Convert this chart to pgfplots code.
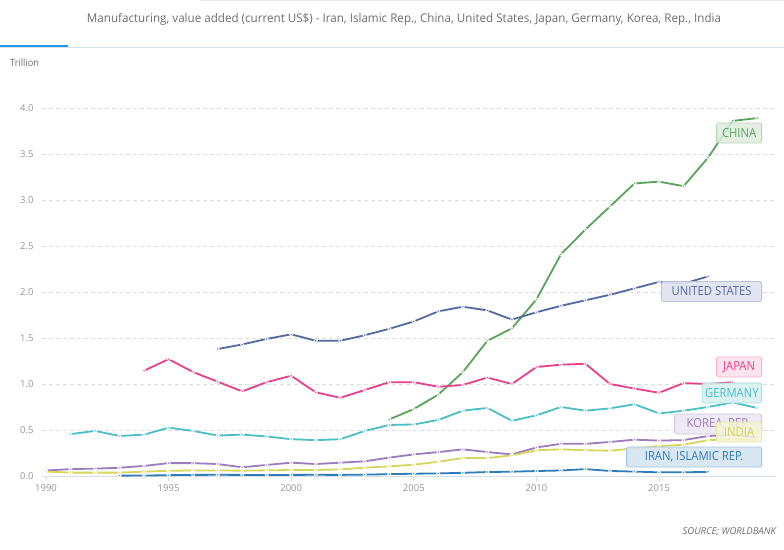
\documentclass[border=0pt]{standalone}
\usepackage{pgfplots}
\pgfplotsset{compat=1.18}
\usepackage{graphicx}
\usepackage{fontspec}
\setmainfont{Open Sans}
\definecolor{china}{RGB}{90,164,90}
\definecolor{usa}{RGB}{84,105,164}
\definecolor{japan}{RGB}{232,65,138}
\definecolor{germany}{RGB}{76,190,198}
\definecolor{korea}{RGB}{157,123,191}
\definecolor{india}{RGB}{214,214,90}
\definecolor{iran}{RGB}{47,125,184}
\definecolor{axiscol}{RGB}{214,224,234}
\definecolor{gridcol}{RGB}{222,222,222}
\definecolor{tickgray}{RGB}{150,150,150}
\definecolor{titlegray}{RGB}{110,110,110}
\definecolor{tabblue}{RGB}{33,150,243}
\newcommand{\labtxt}[1]{\scalebox{0.9}[1]{#1}}
\begin{document}
\begin{tikzpicture}[x=1pt,y=1pt]
\path[use as bounding box, fill=white] (0,0) rectangle (784,-549);
% header
\draw[gridcol!70, line width=1pt] (200,-0.5) -- (784,-0.5);
\draw[axiscol, line width=1pt] (0,-47) -- (784,-47);
\draw[tabblue, line width=2.5pt] (0,-46) -- (68,-46);
\node[anchor=center, text=titlegray, inner sep=0] at (404,-19)
  {\resizebox{634pt}{\height}{\fontsize{12}{14}\selectfont Manufacturing, value added (current US\$) - Iran, Islamic Rep., China, United States, Japan, Germany, Korea, Rep., India}};
\node[anchor=west, text=titlegray, inner sep=0, font=\fontsize{10}{11}\selectfont] at (10,-63) {\scalebox{0.92}[1]{Trillion}};
\node[anchor=east, text=titlegray, inner sep=0, font=\fontsize{9.5}{10}\selectfont\itshape] at (776,-532) {SOURCE; WORLDBANK};
\begin{axis}[
  at={(42pt,-476pt)}, anchor=south west,
  scale only axis, width=734pt, height=368pt,
  xmin=1989.837, xmax=2019.77, ymin=0, ymax=4.0,
  clip=false,
  axis x line*=bottom, axis y line*=left,
  x axis line style={draw=axiscol, line width=1pt, -},
  y axis line style={draw=none},
  xtick={1990,1995,2000,2005,2010,2015},
  ytick={0,0.5,1,1.5,2,2.5,3,3.5,4},
  tick align=outside,
  major tick length=5pt,
  xtick style={draw=axiscol, line width=0.8pt},
  ytick style={draw=none},
  ymajorgrids,
  grid style={gridcol, dashed, dash pattern=on 4pt off 3pt, line width=0.7pt},
  /pgf/number format/assume math mode=true,
  xticklabel style={/pgf/number format/1000 sep={}, font=\fontsize{9.5}{10}\selectfont, text=tickgray},
  yticklabel style={/pgf/number format/fixed, /pgf/number format/fixed zerofill, /pgf/number format/precision=1, font=\fontsize{9.5}{10}\selectfont, text=tickgray},
  every axis plot/.append style={line width=1.8pt, mark=*, mark size=1.6pt},
]
\addplot[iran, mark options={fill=iran, draw=white, line width=0.8pt}] coordinates {
(1993,0.004)(1994,0.005)(1995,0.009)(1996,0.012)(1997,0.013)(1998,0.012)(1999,0.012)(2000,0.012)(2001,0.013)(2002,0.012)(2003,0.015)(2004,0.02)(2005,0.025)(2006,0.028)(2007,0.035)(2008,0.043)(2009,0.047)(2010,0.054)(2011,0.06)(2012,0.075)(2013,0.055)(2014,0.048)(2015,0.04)(2016,0.04)(2017,0.045)};
\addplot[china, mark options={fill=china, draw=white, line width=0.8pt}] coordinates {
(2004,0.615)(2005,0.728)(2006,0.885)(2007,1.13)(2008,1.47)(2009,1.605)(2010,1.92)(2011,2.41)(2012,2.68)(2013,2.93)(2014,3.18)(2015,3.20)(2016,3.15)(2017,3.46)(2018,3.86)(2019,3.89)};
\addplot[usa, mark options={fill=usa, draw=white, line width=0.8pt}] coordinates {
(1997,1.38)(1998,1.43)(1999,1.49)(2000,1.54)(2001,1.47)(2002,1.47)(2003,1.53)(2004,1.60)(2005,1.68)(2006,1.79)(2007,1.84)(2008,1.80)(2009,1.70)(2010,1.78)(2011,1.85)(2012,1.91)(2013,1.97)(2014,2.04)(2015,2.11)(2016,2.09)(2017,2.17)};
\addplot[japan, mark options={fill=japan, draw=white, line width=0.8pt}] coordinates {
(1994,1.145)(1995,1.27)(1996,1.13)(1997,1.025)(1998,0.92)(1999,1.02)(2000,1.09)(2001,0.91)(2002,0.85)(2003,0.935)(2004,1.02)(2005,1.02)(2006,0.97)(2007,0.99)(2008,1.07)(2009,1.00)(2010,1.185)(2011,1.21)(2012,1.22)(2013,1.00)(2014,0.95)(2015,0.905)(2016,1.01)(2017,1.00)(2018,1.02)};
\addplot[germany, mark options={fill=germany, draw=white, line width=0.8pt}] coordinates {
(1991,0.455)(1992,0.49)(1993,0.435)(1994,0.45)(1995,0.525)(1996,0.49)(1997,0.44)(1998,0.45)(1999,0.43)(2000,0.40)(2001,0.39)(2002,0.40)(2003,0.49)(2004,0.555)(2005,0.56)(2006,0.61)(2007,0.71)(2008,0.74)(2009,0.60)(2010,0.66)(2011,0.75)(2012,0.71)(2013,0.735)(2014,0.78)(2015,0.68)(2016,0.71)(2017,0.75)(2018,0.80)(2019,0.74)};
\addplot[korea, mark options={fill=korea, draw=white, line width=0.8pt}] coordinates {
(1990,0.06)(1991,0.075)(1992,0.08)(1993,0.09)(1994,0.11)(1995,0.14)(1996,0.14)(1997,0.13)(1998,0.095)(1999,0.12)(2000,0.145)(2001,0.13)(2002,0.145)(2003,0.16)(2004,0.20)(2005,0.235)(2006,0.26)(2007,0.29)(2008,0.26)(2009,0.235)(2010,0.31)(2011,0.35)(2012,0.35)(2013,0.37)(2014,0.395)(2015,0.385)(2016,0.39)(2017,0.435)(2018,0.445)(2019,0.42)};
\addplot[india, mark options={fill=india, draw=white, line width=0.8pt}] coordinates {
(1990,0.048)(1991,0.037)(1992,0.037)(1993,0.037)(1994,0.048)(1995,0.057)(1996,0.06)(1997,0.06)(1998,0.058)(1999,0.062)(2000,0.065)(2001,0.065)(2002,0.072)(2003,0.09)(2004,0.105)(2005,0.123)(2006,0.155)(2007,0.195)(2008,0.195)(2009,0.225)(2010,0.28)(2011,0.29)(2012,0.28)(2013,0.275)(2014,0.30)(2015,0.325)(2016,0.34)(2017,0.39)(2018,0.40)(2019,0.39)};
\end{axis}
% series labels
\tikzset{lab/.style={anchor=east, minimum height=20pt, inner xsep=3pt, inner ysep=0pt, align=center, rounded corners=1.5pt, line width=0.8pt, font=\fontsize{12.5}{13}\selectfont}}
\node[lab, minimum width=45pt, fill=china!20, fill opacity=0.85, text opacity=1, draw=china!45, text=china] at (762,-133) {\labtxt{CHINA}};
\node[lab, minimum width=100pt, fill=usa!18, fill opacity=0.9, text opacity=1, draw=usa!40, text=usa] at (762,-291.5) {\labtxt{UNITED STATES}};
\node[lab, minimum width=45pt, fill=japan!15, fill opacity=0.9, text opacity=1, draw=japan!40, text=japan] at (762,-367) {\labtxt{JAPAN}};
\node[lab, minimum width=59pt, fill=germany!22, fill opacity=0.9, text opacity=1, draw=germany!50, text=germany] at (762,-393) {\labtxt{GERMANY}};
\node[lab, minimum width=87pt, fill=korea!18, fill opacity=0.9, text opacity=1, draw=korea!45, text=korea] at (762,-424) {\labtxt{KOREA, REP.}};
\node[lab, minimum width=45pt, fill=india!25, fill opacity=0.85, text opacity=1, draw=india!55, text=india] at (762,-432) {\labtxt{INDIA}};
\node[lab, minimum width=135pt, fill=iran!20, fill opacity=0.9, text opacity=1, draw=iran!45, text=iran] at (762,-457) {\labtxt{IRAN, ISLAMIC REP.}};
\end{tikzpicture}
\end{document}
